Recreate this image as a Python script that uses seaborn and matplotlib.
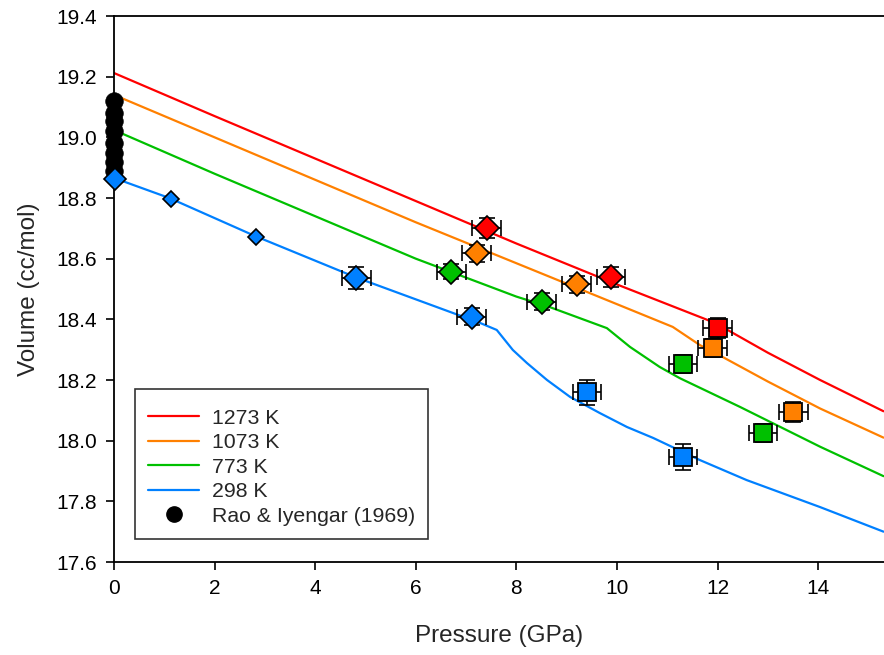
import numpy as np
import pandas as pd
import matplotlib
matplotlib.use("Agg")
import matplotlib.pyplot as plt
from matplotlib.lines import Line2D
import seaborn as sns

# ---- model curves ----
P_1273 = [0, 2, 4, 6, 8, 10, 11.8, 12.2, 13.0, 14.04, 15.3]
V_1273 = [19.212, 19.07, 18.93, 18.79, 18.65, 18.515, 18.398, 18.365, 18.29, 18.20, 18.097]

P_1073 = [0, 2, 4, 6, 8, 10, 11.11, 11.65, 12.1, 13.0, 14.04, 15.3]
V_1073 = [19.14, 19.0, 18.86, 18.72, 18.585, 18.45, 18.375, 18.315, 18.276, 18.195, 18.106, 18.01]

P_773 = [0, 2, 4, 6, 8, 8.67, 9.8, 10.26, 10.85, 11.25, 12.45, 14.04, 15.3]
V_773 = [19.024, 18.88, 18.74, 18.60, 18.475, 18.44, 18.371, 18.309, 18.243, 18.206, 18.111, 17.98, 17.883]

P_298 = [0, 1.1, 2.8, 4.8, 7.28, 7.61, 7.93, 8.21, 8.61, 9.07, 9.66, 10.2, 10.72, 11.65, 12.58, 14.04, 15.3]
V_298 = [18.866, 18.80, 18.675, 18.539, 18.388, 18.365, 18.299, 18.256, 18.200, 18.144, 18.091, 18.045, 18.009, 17.936, 17.870, 17.781, 17.70]

# ---- Rao & Iyengar (1969) ----
rao_P = [0, 0, 0, 0, 0, 0, 0, 0]
rao_V = [19.12, 19.08, 19.055, 19.02, 18.98, 18.95, 18.92, 18.89]

# ---- small diamonds (298 K, no error bars) ----
sd_P = [0.02, 1.13, 2.82]
sd_V = [18.862, 18.796, 18.672]
sd_size = [11.5, 8.5, 8.5]

# ---- diamonds with error bars ----
dm_T = ["298", "298", "773", "1073", "1273", "773", "1073", "1273"]
dm_P = [4.82, 7.11, 6.71, 7.21, 7.41, 8.50, 9.20, 9.89]
dm_V = [18.537, 18.409, 18.557, 18.618, 18.700, 18.458, 18.516, 18.540]
dm_Perr = [0.29, 0.29, 0.28, 0.29, 0.285, 0.29, 0.29, 0.28]
dm_Verr = [0.037, 0.028, 0.025, 0.028, 0.033, 0.028, 0.028, 0.033]

# ---- squares with error bars ----
sq_T = ["298", "298", "773", "1073", "1273", "773", "1073"]
sq_P = [9.40, 11.31, 11.31, 11.90, 12.00, 12.90, 13.51]
sq_V = [18.159, 17.947, 18.253, 18.306, 18.372, 18.024, 18.093]
sq_Perr = [0.28, 0.28, 0.28, 0.28, 0.28, 0.28, 0.28]
sq_Verr = [0.041, 0.043, 0.03, 0.03, 0.033, 0.03, 0.033]

colors = {"1273": "#FF0000", "1073": "#FF8000", "773": "#00C000", "298": "#0080FF"}

sns.set_style("ticks")
plt.rcParams["font.family"] = ["Liberation Sans", "DejaVu Sans"]

fig = plt.figure(figsize=(8.84, 6.55), dpi=100)
ax = fig.add_axes([114 / 884, (655 - 562) / 655, (883.5 - 114) / 884, 546 / 655])

curves = pd.concat([
    pd.DataFrame({"P": P_1273, "V": V_1273, "T": "1273"}),
    pd.DataFrame({"P": P_1073, "V": V_1073, "T": "1073"}),
    pd.DataFrame({"P": P_773, "V": V_773, "T": "773"}),
    pd.DataFrame({"P": P_298, "V": V_298, "T": "298"}),
])
sns.lineplot(data=curves, x="P", y="V", hue="T", palette=colors, sort=False,
             estimator=None, linewidth=1.6, ax=ax, legend=False, zorder=2)

# Rao & Iyengar circles
sns.scatterplot(x=rao_P, y=rao_V, color="black", s=160, edgecolor="black",
                linewidth=0.5, ax=ax, legend=False, zorder=5, clip_on=False)
for c in ax.collections:
    c.set_clip_on(False)

# small diamonds
for p, v, s in zip(sd_P, sd_V, sd_size):
    ax.plot(p, v, marker="D", markersize=s, color=colors["298"], mec="black",
            mew=1.2, zorder=6, clip_on=False, linestyle="none")

# diamonds with error bars
for t, p, v, pe, ve in zip(dm_T, dm_P, dm_V, dm_Perr, dm_Verr):
    ax.errorbar(p, v, xerr=pe, yerr=ve, fmt="none", ecolor="black", elinewidth=1.2,
                capsize=6, capthick=1.2, zorder=4)
    ax.plot(p, v, marker="D", markersize=12.5, color=colors[t], mec="black",
            mew=1.2, zorder=6, linestyle="none")

# squares with error bars
for t, p, v, pe, ve in zip(sq_T, sq_P, sq_V, sq_Perr, sq_Verr):
    ax.errorbar(p, v, xerr=pe, yerr=ve, fmt="none", ecolor="black", elinewidth=1.2,
                capsize=6, capthick=1.2, zorder=4)
    ax.plot(p, v, marker="s", markersize=13, color=colors[t], mec="black",
            mew=1.3, zorder=6, linestyle="none")

ax.set_xlim(0, 15.3)
ax.set_ylim(17.6, 19.4)
ax.set_xticks(np.arange(0, 15, 2))
ax.set_yticks(np.round(np.arange(17.6, 19.41, 0.2), 1))
ax.set_yticklabels([f"{v:.1f}" for v in np.arange(17.6, 19.41, 0.2)])
ax.tick_params(axis="both", direction="out", length=6, width=1.2, labelsize=15,
               colors="black", pad=6)
for side in ["left", "bottom", "top"]:
    ax.spines[side].set_visible(True)
    ax.spines[side].set_linewidth(1.3)
    ax.spines[side].set_color("black")
ax.spines["right"].set_visible(False)

ax.set_xlabel("Pressure (GPa)", fontsize=17.5, labelpad=20)
ax.set_ylabel("Volume (cc/mol)", fontsize=17.5, labelpad=12)

handles = [Line2D([], [], color=colors[k], lw=1.6) for k in ["1273", "1073", "773", "298"]]
handles.append(Line2D([], [], color="black", marker="o", linestyle="none", markersize=11))
labels = ["1273 K", "1073 K", "773 K", "298 K", "Rao & Iyengar (1969)"]
leg = ax.legend(handles, labels, loc="upper left",
                bbox_to_anchor=((135 - 114) / 769.5, (562 - 389) / 546),
                fontsize=15.3, frameon=True, fancybox=False, edgecolor="black",
                handlelength=2.4, handletextpad=0.6, labelspacing=0.26,
                borderpad=0.62, title=" ", title_fontsize=1.5, borderaxespad=0)
leg.get_frame().set_linewidth(1.2)

fig.savefig("out.png", dpi=100)
